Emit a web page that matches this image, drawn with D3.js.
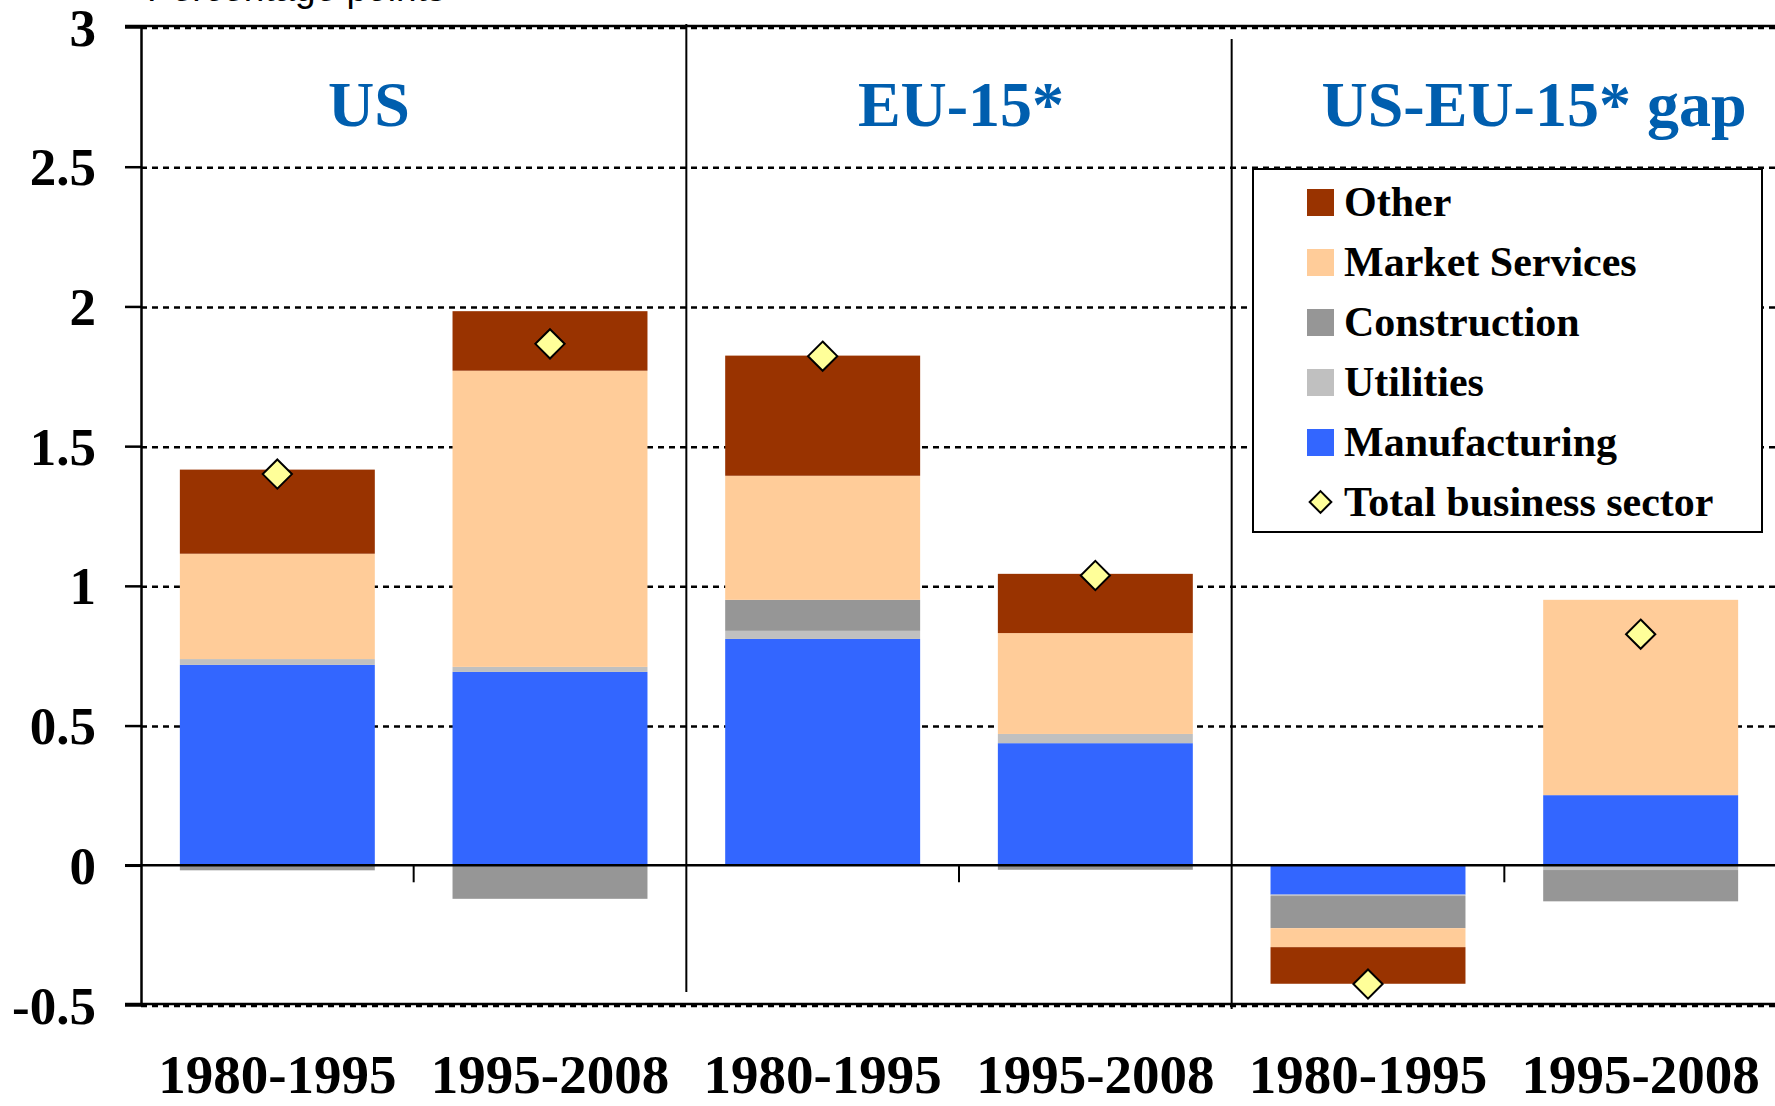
<!DOCTYPE html>
<html>
<head>
<meta charset="utf-8">
<script src="https://cdn.jsdelivr.net/npm/d3@7"></script>
<style>
  html, body { margin: 0; padding: 0; background: #fff; }
  svg { display: block; }
</style>
</head>
<body>
<svg id="chart" width="1775" height="1106"></svg>
<script>
// ---------- data ----------
const groups = ["US", "EU-15*", "US-EU-15* gap"];
const categories = ["US 1980-1995", "US 1995-2008", "EU 1980-1995", "EU 1995-2008", "Gap 1980-1995", "Gap 1995-2008"];
const categoryLabels = ["1980-1995", "1995-2008", "1980-1995", "1995-2008", "1980-1995", "1995-2008"];
const seriesNames = ["Manufacturing", "Utilities", "Construction", "Market Services", "Other"];
const manufacturing  = [0.717, 0.692, 0.810, 0.437, -0.105, 0.251];
const utilities      = [0.021, 0.018, 0.029, 0.033, -0.005, -0.017];
const construction   = [-0.018, -0.120, 0.111, -0.016, -0.115, -0.112];
const marketServices = [0.377, 1.060, 0.444, 0.361, -0.068, 0.699];
const other          = [0.301, 0.213, 0.430, 0.212, -0.131, 0.000];
const totalBusiness  = [1.400, 1.866, 1.822, 1.037, -0.425, 0.827];
const yTickValues = [-0.5, 0, 0.5, 1, 1.5, 2, 2.5, 3];
const yTickLabels = ["-0.5", "0", "0.5", "1", "1.5", "2", "2.5", "3"];
const yAxisTitle = "Percentage points";
const legendOrder = ["Other", "Market Services", "Construction", "Utilities", "Manufacturing"];
const legendTotal = "Total business sector";

// ---------- styles ----------
const colors = {
  "Manufacturing": "#3366FF",
  "Utilities": "#C0C0C0",
  "Construction": "#969696",
  "Market Services": "#FFCC99",
  "Other": "#993300"
};
const serif = "'Liberation Serif', 'Times New Roman', serif";
const titleColor = "#005EAE";

const seriesArrays = [manufacturing, utilities, construction, marketServices, other];
const rows = categories.map((c, i) => {
  const r = { cat: c };
  seriesNames.forEach((s, j) => r[s] = seriesArrays[j][i]);
  return r;
});

const svg = d3.select("#chart");
const plotLeft = 141, plotRight = 1777, plotTop = 27, plotBottom = 1005;

const x = d3.scaleBand().domain(categories).range([plotLeft, plotRight])
  .paddingInner(0.285).paddingOuter(0.1425);
const y = d3.scaleLinear().domain([-0.5, 3]).range([plotBottom, plotTop]);
const step = x.step();
const boundary = c => x(c) - step * x.paddingInner() / 2;

// gridlines (dotted)
svg.append("g").selectAll("line")
  .data(yTickValues.filter(v => v !== 0))
  .join("line")
  .attr("x1", plotLeft).attr("x2", 1775)
  .attr("y1", d => y(d) + 1).attr("y2", d => y(d) + 1)
  .attr("stroke", "#000").attr("stroke-width", 2.5)
  .attr("stroke-dasharray", "6,5");

// stacked bars
const stack = d3.stack().keys(seriesNames).offset(d3.stackOffsetDiverging);
const stacked = stack(rows);
svg.append("g").selectAll("g")
  .data(stacked)
  .join("g")
  .attr("fill", d => colors[d.key])
  .selectAll("rect")
  .data(d => d)
  .join("rect")
  .attr("x", d => x(d.data.cat))
  .attr("width", x.bandwidth())
  .attr("y", d => y(Math.max(d[0], d[1])))
  .attr("height", d => Math.abs(y(d[0]) - y(d[1])));

// solid top and bottom frame lines
svg.append("line").attr("x1", 125).attr("x2", 1775).attr("y1", y(3) - 1).attr("y2", y(3) - 1)
  .attr("stroke", "#000").attr("stroke-width", 2.5);
svg.append("line").attr("x1", 125).attr("x2", 1775).attr("y1", y(-0.5) - 1).attr("y2", y(-0.5) - 1)
  .attr("stroke", "#000").attr("stroke-width", 2.5);

// zero line
svg.append("line").attr("x1", 125).attr("x2", 1775).attr("y1", y(0)).attr("y2", y(0))
  .attr("stroke", "#000").attr("stroke-width", 2.5);

// category boundary ticks
svg.append("g").selectAll("line")
  .data([categories[1], categories[3], categories[5]])
  .join("line")
  .attr("x1", d => boundary(d)).attr("x2", d => boundary(d))
  .attr("y1", y(0)).attr("y2", y(0) + 17)
  .attr("stroke", "#000").attr("stroke-width", 2);

// group dividers
const div1 = boundary(categories[2]);
const div2 = boundary(categories[4]);
svg.append("line").attr("x1", div1).attr("x2", div1).attr("y1", y(3) - 3).attr("y2", 992)
  .attr("stroke", "#000").attr("stroke-width", 2);
svg.append("line").attr("x1", div2).attr("x2", div2).attr("y1", 39).attr("y2", y(-0.5) + 4)
  .attr("stroke", "#000").attr("stroke-width", 2);

// y axis
const yAxis = d3.axisLeft(y).tickValues(yTickValues)
  .tickFormat((d, i) => yTickLabels[i])
  .tickSize(16).tickSizeOuter(0).tickPadding(29);
const yg = svg.append("g").attr("transform", `translate(${plotLeft},0)`).call(yAxis);
yg.select(".domain").attr("stroke", "#000").attr("stroke-width", 2.5);
yg.selectAll(".tick line").attr("stroke", "#000").attr("stroke-width", 2.5);
yg.selectAll(".tick text")
  .attr("font-family", serif).attr("font-weight", "bold")
  .attr("font-size", 53).attr("fill", "#000").attr("dy", "0.34em");

// x labels
svg.append("g").selectAll("text")
  .data(categories)
  .join("text")
  .attr("x", d => x(d) + x.bandwidth() / 2)
  .attr("y", 1093)
  .attr("text-anchor", "middle")
  .attr("font-family", serif).attr("font-weight", "bold").attr("font-size", 55)
  .text((d, i) => categoryLabels[i]);

// total business sector markers
const diamond = d3.symbol().type(d3.symbolDiamond2).size(545);
svg.append("g").selectAll("path")
  .data(categories)
  .join("path")
  .attr("transform", (d, i) => `translate(${x(d) + x.bandwidth() / 2},${y(totalBusiness[i])})`)
  .attr("d", diamond)
  .attr("fill", "#FFFF99").attr("stroke", "#000").attr("stroke-width", 2);

// panel titles
const titleX = [369, 961, 1534];
svg.append("g").selectAll("text")
  .data(groups)
  .join("text")
  .attr("x", (d, i) => titleX[i]).attr("y", 126)
  .attr("text-anchor", "middle")
  .attr("font-family", serif).attr("font-weight", "bold").attr("font-size", 64)
  .attr("fill", titleColor)
  .text(d => d);

// y axis title (partly cut off at top, as in the original)
svg.append("text").attr("x", 147).attr("y", 1)
  .attr("font-family", "'Liberation Sans', Arial, sans-serif").attr("font-size", 37)
  .attr("fill", "#000").text(yAxisTitle);

// legend
const lg = svg.append("g");
lg.append("rect").attr("x", 1253).attr("y", 169).attr("width", 509).attr("height", 363)
  .attr("fill", "#fff").attr("stroke", "#000").attr("stroke-width", 2);
const rowY = i => 189 + i * 60;
lg.selectAll("rect.sw").data(legendOrder).join("rect").attr("class", "sw")
  .attr("x", 1307).attr("y", (d, i) => rowY(i)).attr("width", 27).attr("height", 27)
  .attr("fill", d => colors[d]);
lg.selectAll("text.lt").data(legendOrder.concat([legendTotal])).join("text").attr("class", "lt")
  .attr("x", 1344).attr("y", (d, i) => rowY(i) + 27)
  .attr("font-family", serif).attr("font-weight", "bold").attr("font-size", 42)
  .text(d => d);
lg.append("path")
  .attr("transform", `translate(1320.5,${rowY(5) + 13})`)
  .attr("d", d3.symbol().type(d3.symbolDiamond2).size(300))
  .attr("fill", "#FFFF99").attr("stroke", "#000").attr("stroke-width", 2);
</script>
</body>
</html>
